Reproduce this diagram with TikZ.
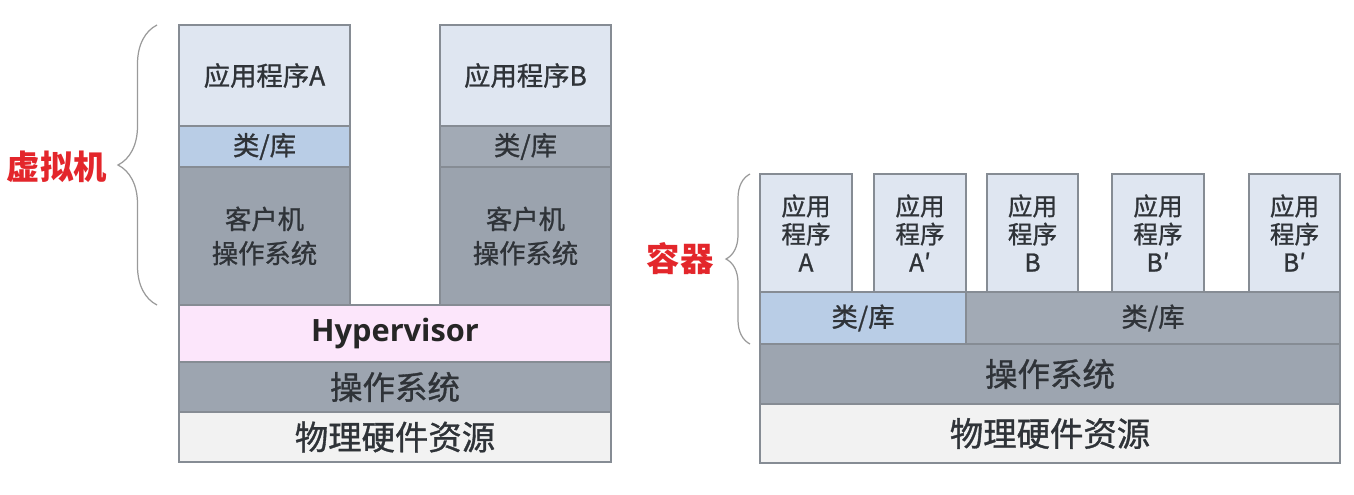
\documentclass[tikz,border=0pt]{standalone}
\usepackage{fontspec}
\setmainfont{Noto Sans CJK SC}[FakeBold=1]
\newfontfamily\hyfont{Open Sans}
\newfontfamily\redfont{Noto Sans CJK SC}
\usepackage{xcolor}
\usepackage{tikz}
\usetikzlibrary{positioning,decorations.pathreplacing}

\definecolor{appfill}{HTML}{DFE6F1}
\definecolor{libblue}{HTML}{B9CDE6}
\definecolor{libgray}{HTML}{A2AAB5}
\definecolor{guestgray}{HTML}{9BA3AE}
\definecolor{osgray}{HTML}{9DA5B0}
\definecolor{hyperpink}{HTML}{FCE6FB}
\definecolor{hwfill}{HTML}{F2F2F2}
\definecolor{edgegray}{HTML}{868C94}
\definecolor{txtgray}{HTML}{2F3338}
\definecolor{bracegray}{HTML}{9A9A9A}
\definecolor{lblred}{HTML}{E3262B}

\tikzset{
  layer/.style={draw=edgegray, line width=0.6pt, inner sep=0pt, outer sep=0pt,
    text=txtgray, align=center},
  wh/.style 2 args={minimum width=#1*0.02cm, minimum height=#2*0.02cm},
  grp/.style={decorate, decoration={brace, amplitude=#1*0.02cm},
    draw=bracegray, line width=0.7pt},
  lbl/.style={text=lblred, font=\fontsize{19}{21}\selectfont\redfont\bfseries},
}

\begin{document}
\begin{tikzpicture}[x=0.02cm, y=-0.02cm]
\useasboundingbox (0,0) rectangle (1354,494);

% virtual machines
\node [layer, fill=appfill, wh={171}{101}, font=\fontsize{15}{17}\selectfont] (appA) at (264.5,75.5) {应用程序A};
\node [layer, fill=libblue, wh={171}{41}, font=\fontsize{15}{17}\selectfont, below=0pt of appA] (libA) {类/库};
\node [layer, fill=guestgray, wh={171}{138}, font=\fontsize{15}{19.5}\selectfont, below=0pt of libA] (gosA) {客户机\\操作系统};

\node [layer, fill=appfill, wh={171}{101}, font=\fontsize{15}{17}\selectfont] (appB) at (525.5,75.5) {应用程序B};
\node [layer, fill=libgray, wh={171}{41}, font=\fontsize{15}{17}\selectfont, below=0pt of appB] (libB) {类/库};
\node [layer, fill=guestgray, wh={171}{138}, font=\fontsize{15}{19.5}\selectfont, below=0pt of libB] (gosB) {客户机\\操作系统};

\node [layer, fill=hyperpink, wh={432}{57}, text=black!85, font=\fontsize{17.5}{19}\selectfont\hyfont\bfseries] (hyper) at (395,333.5) {Hypervisor};
\node [layer, fill=osgray, wh={432}{50}, font=\fontsize{18.5}{20}\selectfont] (hostos) at (395,387) {操作系统};
\node [layer, fill=hwfill, wh={432}{50}, font=\fontsize{19}{21}\selectfont] (hw) at (395,437) {物理硬件资源};

\coordinate (vmtop) at (157,25);
\coordinate (vmbot) at (157,305);
\draw [grp=39] (vmbot) -- (vmtop);
\node [lbl] (vmlbl) at (57,167) {虚拟机};

% containers
\node [layer, fill=appfill, wh={92}{118}, font=\fontsize{14}{16}\selectfont] (cA) at (806,233) {应用\\程序\\A};
\node [layer, fill=appfill, wh={92}{118}, font=\fontsize{14}{16}\selectfont] (cA2) at (920,233) {应用\\程序\\A′};
\node [layer, fill=appfill, wh={91}{118}, font=\fontsize{14}{16}\selectfont] (cB) at (1032.5,233) {应用\\程序\\B};
\node [layer, fill=appfill, wh={92}{118}, font=\fontsize{14}{16}\selectfont] (cB2) at (1158,233) {应用\\程序\\B′};
\node [layer, fill=appfill, wh={91}{118}, font=\fontsize{14}{16}\selectfont] (cB3) at (1294.5,233) {应用\\程序\\B′};

\node [layer, fill=libblue, wh={206}{52}, font=\fontsize{15}{17}\selectfont] (clib1) at (863,318) {类/库};
\node [layer, fill=libgray, wh={374}{52}, font=\fontsize{15}{17}\selectfont] (clib2) at (1153,318) {类/库};
\node [layer, fill=osgray, wh={580}{60}, font=\fontsize{18.5}{20}\selectfont] (cos) at (1050,374) {操作系统};
\node [layer, fill=hwfill, wh={580}{59}, font=\fontsize{19}{21}\selectfont] (chw) at (1050,433.5) {物理硬件资源};

\coordinate (cttop) at (750,174);
\coordinate (ctbot) at (750,344);
\draw [grp=24] (ctbot) -- (cttop);
\node [lbl] (ctlbl) at (680,259) {容器};

\end{tikzpicture}
\end{document}
